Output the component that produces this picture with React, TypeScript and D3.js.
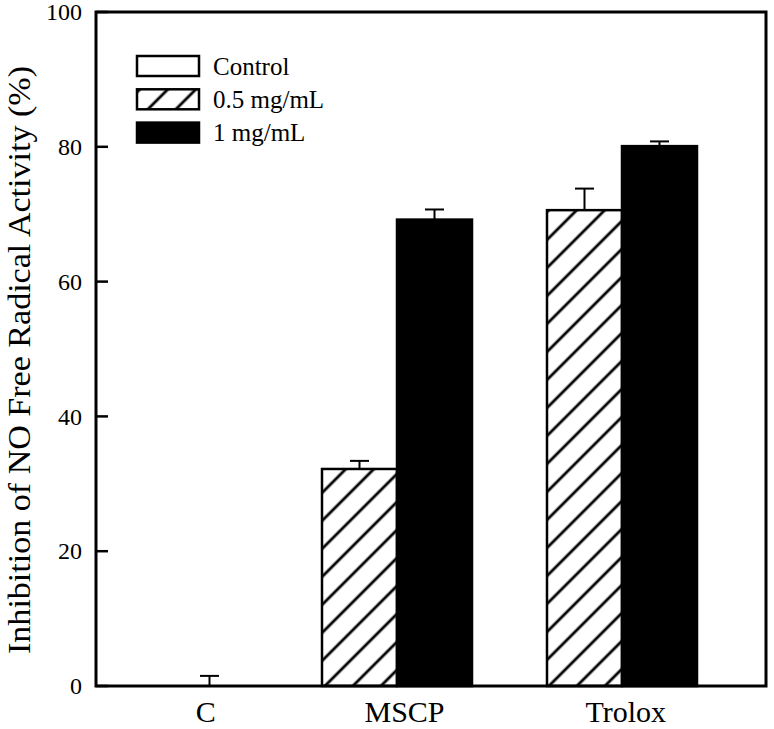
import React from 'react';
import * as d3 from 'd3';

// ---- Data ----
const categories = ['C', 'MSCP', 'Trolox'];
const seriesNames = ['Control', '0.5 mg/mL', '1 mg/mL'];
const controlValues: (number | null)[] = [0, null, null];
const controlErrors: (number | null)[] = [1.5, null, null];
const halfValues: (number | null)[] = [null, 32.2, 70.6];
const halfErrors: (number | null)[] = [null, 1.2, 3.2];
const oneValues: (number | null)[] = [null, 69.2, 80.1];
const oneErrors: (number | null)[] = [null, 1.5, 0.7];
const yTicks = [0, 20, 40, 60, 80, 100];
const yLabel = 'Inhibition of NO Free Radical Activity (%)';

// ---- Layout ----
const W = 774, H = 729;
const plot = { left: 96, right: 766, top: 12, bottom: 686 };
const groupStartSlot = [1, 3, 6];
const labelSlot = [1.45, 4.1, 7.05];
const FONT = 'Liberation Serif';

const seriesValues = [controlValues, halfValues, oneValues];
const seriesErrors = [controlErrors, halfErrors, oneErrors];
const seriesFill = ['#ffffff', 'url(#hatch)', '#000000'];

export default function App() {
  const x = d3.scaleLinear().domain([0, 8.92]).range([plot.left + 1, plot.right]);
  const y = d3.scaleLinear().domain([0, 100]).range([plot.bottom, plot.top]);
  const slotW = x(1) - x(0);

  type Bar = { cat: number; s: number; x0: number; v: number; e: number };
  const bars: Bar[] = [];
  categories.forEach((_, ci) => {
    let slot = groupStartSlot[ci];
    seriesValues.forEach((vals, si) => {
      const v = vals[ci];
      if (v === null || v === undefined) return;
      bars.push({ cat: ci, s: si, x0: x(slot), v, e: seriesErrors[si][ci] ?? 0 });
      slot += 1;
    });
  });

  const legendX = 137, legendY0 = 56, legendGap = 33.3, boxW = 62, boxH = 20;

  return (
    <svg width={W} height={H} style={{ position: 'absolute', left: 0, top: 0, background: '#fff' }}>
      <defs>
        <pattern id="hatch" patternUnits="userSpaceOnUse" width={19.8} height={19.8}
          patternTransform="rotate(45)">
          <rect width={19.8} height={19.8} fill="#fff" />
          <line x1={2} y1={0} x2={2} y2={19.8} stroke="#000" strokeWidth={2.8} />
        </pattern>
      </defs>
      <rect x={0} y={0} width={W} height={H} fill="#fff" />

      {bars.map((b, i) => (
        <rect key={i} x={b.x0} y={y(b.v)} width={slotW} height={y(0) - y(b.v)}
          fill={seriesFill[b.s]} stroke="#000" strokeWidth={2.5} />
      ))}
      {bars.map((b, i) => {
        const cx = b.x0 + slotW / 2;
        return (
          <g key={'e' + i} stroke="#000" strokeWidth={2}>
            <line x1={cx} x2={cx} y1={y(b.v)} y2={y(b.v + b.e)} />
            <line x1={cx - 9.5} x2={cx + 9.5} y1={y(b.v + b.e)} y2={y(b.v + b.e)} />
          </g>
        );
      })}

      <rect x={plot.left} y={plot.top} width={plot.right - plot.left} height={plot.bottom - plot.top}
        fill="none" stroke="#000" strokeWidth={3} />

      {yTicks.map((t) => (
        <g key={t}>
          <line x1={plot.left} x2={plot.left + 12} y1={y(t)} y2={y(t)} stroke="#000" strokeWidth={2.5} />
          <text x={82} y={y(t)} dy="0.34em" textAnchor="end" fontSize={24} fill="#000" fontFamily={FONT}>{t}</text>
        </g>
      ))}

      {categories.map((c, i) => (
        <text key={c} x={x(labelSlot[i])} y={722} textAnchor="middle" fontSize={30} fill="#000" fontFamily={FONT}>{c}</text>
      ))}

      <text transform={`translate(30, 360) rotate(-90)`} textAnchor="middle"
        fontSize={32} fill="#000" fontFamily={FONT} textLength={588} lengthAdjust="spacingAndGlyphs">{yLabel}</text>

      {seriesNames.map((n, i) => (
        <g key={n} transform={`translate(${legendX}, ${legendY0 + i * legendGap})`}>
          <rect x={0} y={0} width={boxW} height={boxH} fill={seriesFill[i]} stroke="#000" strokeWidth={2.5} />
          <text x={76} y={boxH / 2} dy="0.35em" fontSize={25} fill="#000" fontFamily={FONT}>{n}</text>
        </g>
      ))}
    </svg>
  );
}
